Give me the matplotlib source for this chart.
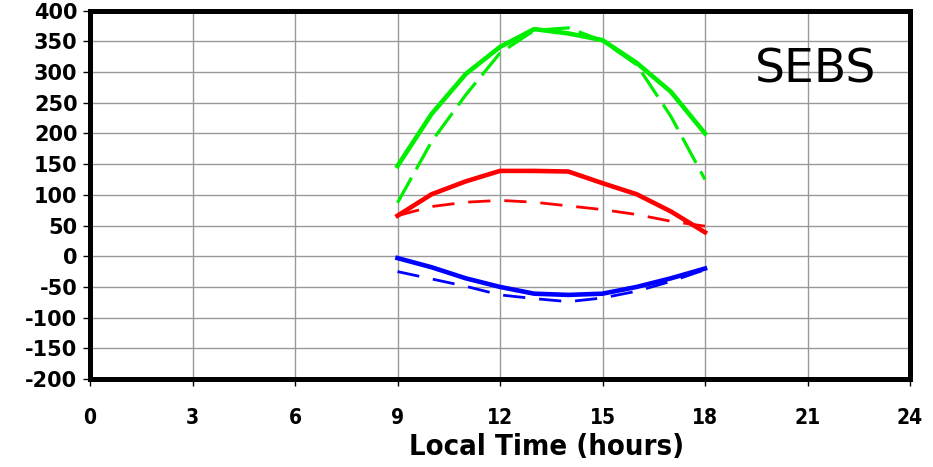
import numpy as np
import matplotlib
matplotlib.use("Agg")
import matplotlib.pyplot as plt

plt.rcParams["axes.unicode_minus"] = False

hours = [9, 10, 11, 12, 13, 14, 15, 16, 17, 18]

green_solid = [147, 232, 297, 341, 370, 363, 352, 315, 268, 200]
green_dash = [87, 187, 263, 331, 368, 372, 351, 312, 228, 125]
red_solid = [66, 101, 122, 139, 139, 138, 119, 101, 73, 39]
red_dash = [66, 81, 88, 91, 88, 82, 76, 68, 57, 49]
blue_solid = [-3, -18, -36, -50, -61, -63, -61, -50, -36, -20]
blue_dash = [-25, -37, -49, -63, -69, -74, -68, -57, -41, -22]

xticks = [0, 3, 6, 9, 12, 15, 18, 21, 24]
yticks = list(range(-200, 401, 50))

W, H = 933, 467
fig = plt.figure(figsize=(W / 100, H / 100), dpi=100)
ax = fig.add_axes([90 / W, 1 - 379 / H, (910 - 90) / W, (379 - 10.7) / H])

ax.plot(hours, green_solid, color="#00ee00", lw=3.3)
ax.plot(hours, green_dash, color="#00ee00", lw=2.3, dashes=(9, 3))
ax.plot(hours, red_solid, color="#ff0000", lw=3.3)
ax.plot(hours, red_dash, color="#ff0000", lw=2.0, dashes=(8, 5))
ax.plot(hours, blue_solid, color="#0000ff", lw=3.3)
ax.plot(hours, blue_dash, color="#0000ff", lw=2.0, dashes=(8, 5))

ax.set_xlim(0, 24)
ax.set_ylim(-200, 400)
ax.set_xticks(xticks)
ax.set_yticks(yticks)
ax.grid(True, color="#999999", lw=1.0)
ax.set_axisbelow(True)

for s in ax.spines.values():
    s.set_linewidth(3.6)
    s.set_color("black")

ax.tick_params(direction="out", length=5, width=1, pad=4)
for lab in ax.get_yticklabels():
    lab.set_fontfamily("DejaVu Sans")
    lab.set_fontweight("bold")
    lab.set_fontsize(15)
for lab in ax.get_xticklabels():
    lab.set_fontfamily("DejaVu Sans")
    lab.set_fontstretch("condensed")
    lab.set_fontweight("bold")
    lab.set_fontsize(15)
ax.tick_params(axis="x", pad=16)

fig.text(547 / W, 1 - 447 / H, "Local Time (hours)", ha="center", va="center",
         fontsize=21, fontweight="bold", fontstretch="condensed")
ax.text(0.959, 0.84, "SEBS", transform=ax.transAxes, ha="right", va="center",
        fontsize=34)

fig.savefig("out.png", dpi=100)
